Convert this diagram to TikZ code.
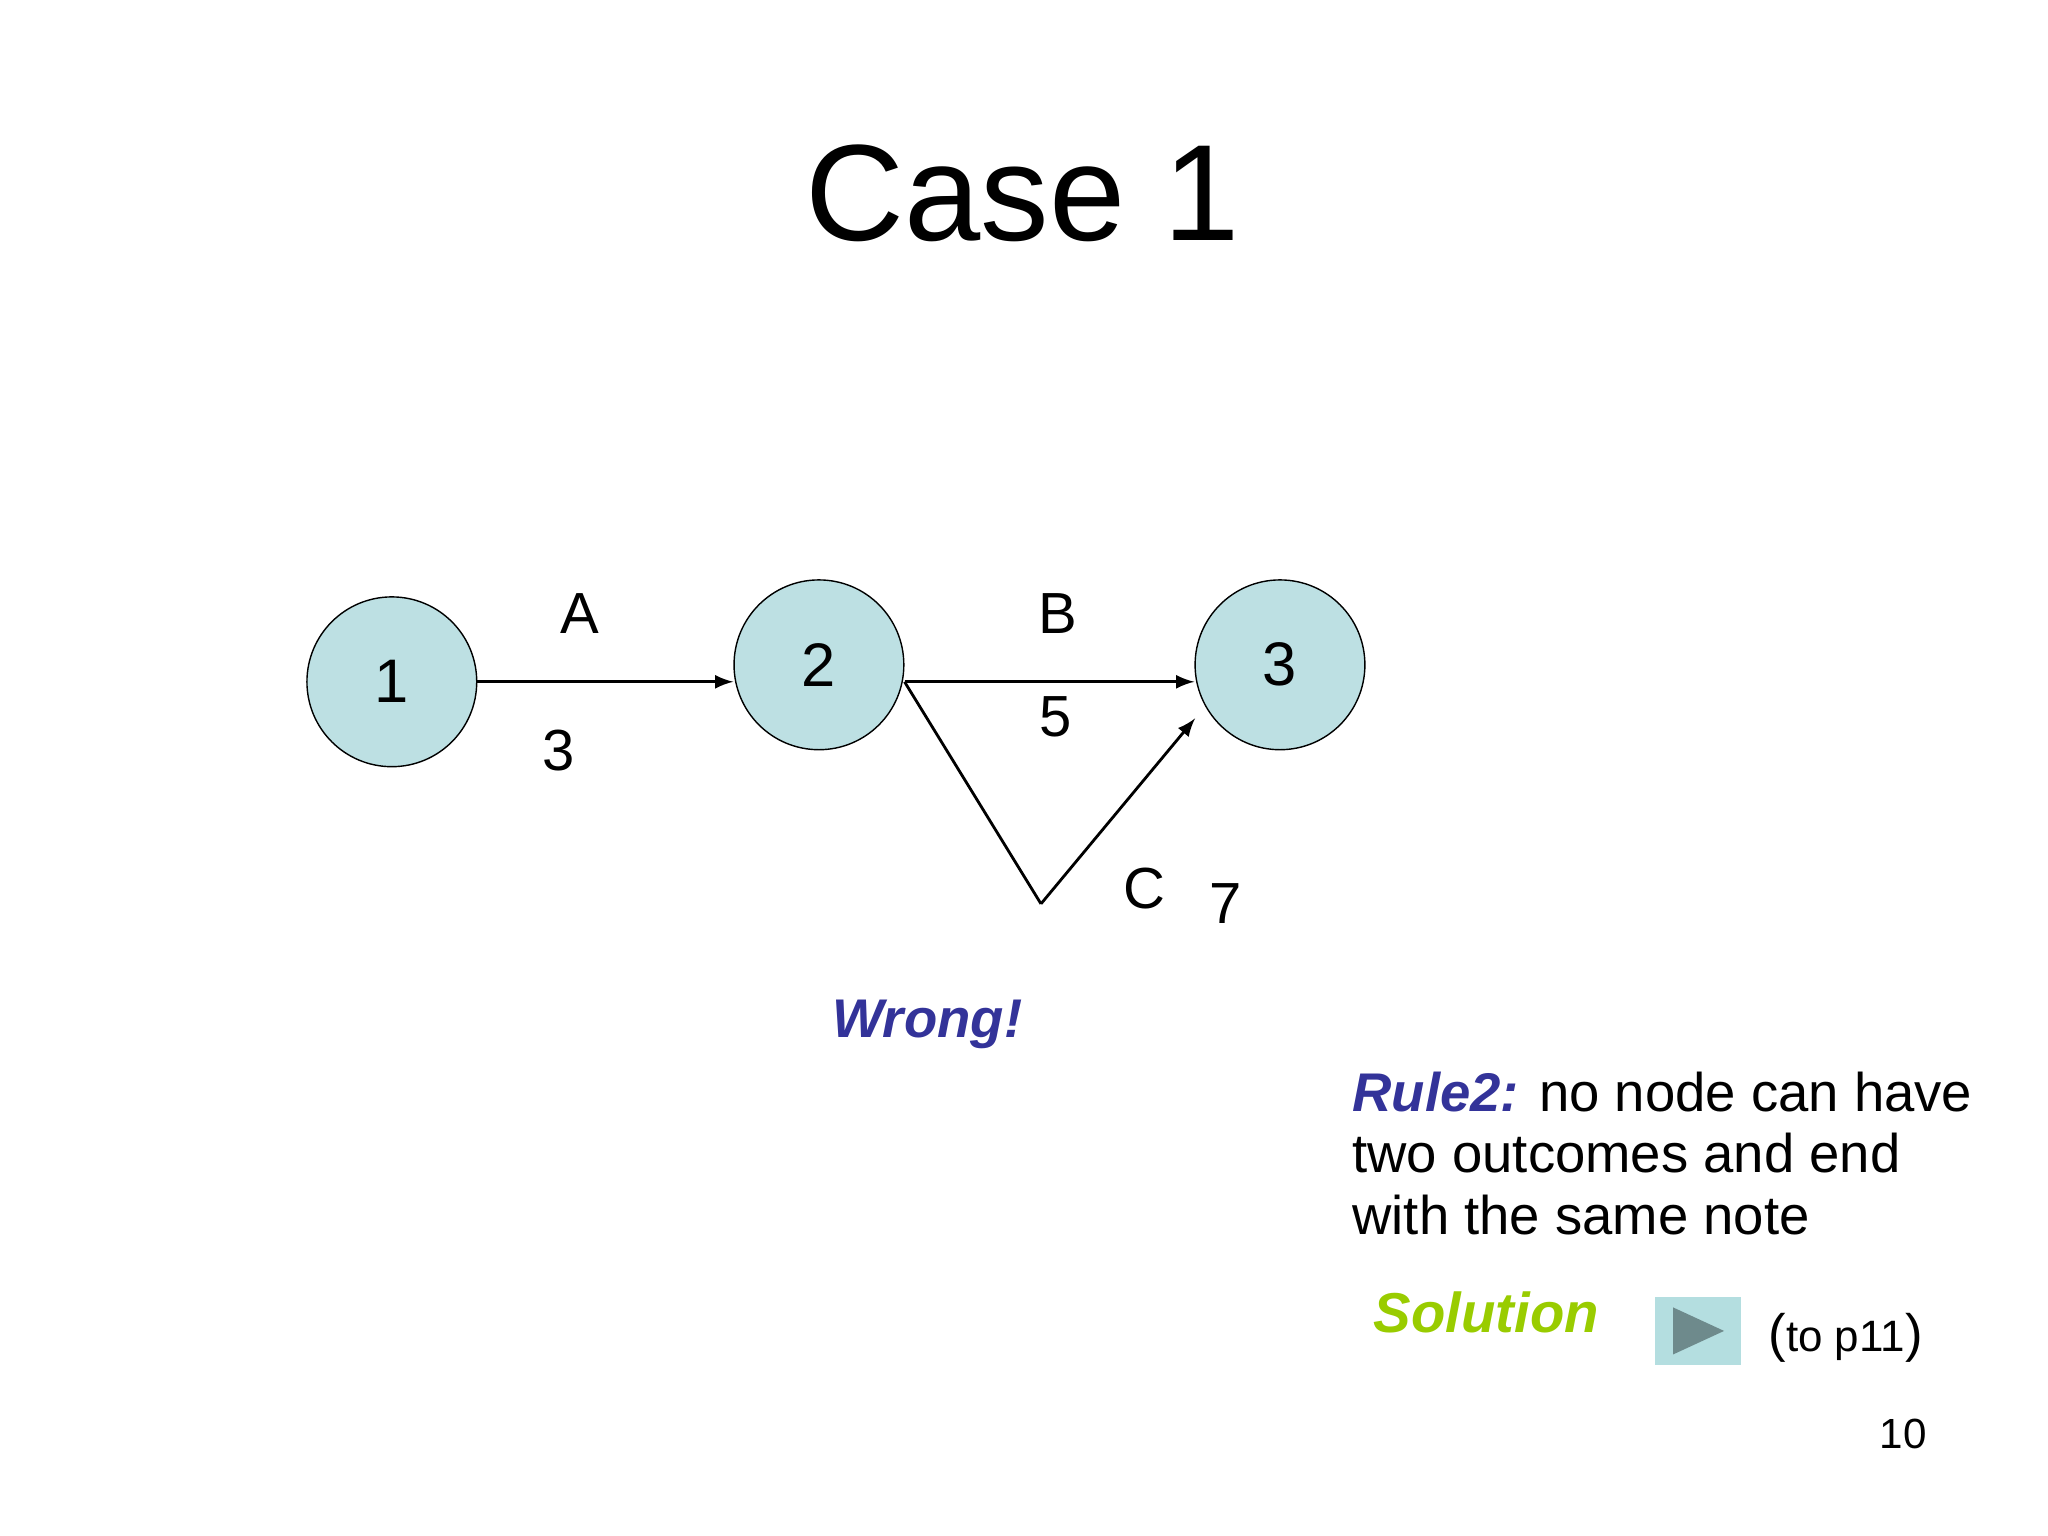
\documentclass[tikz,border=0pt]{standalone}
\usepackage{fontspec}
\setmainfont{Liberation Sans}
\definecolor{nodefill}{HTML}{BDE0E3}
\definecolor{rulblue}{HTML}{333399}
\definecolor{solgreen}{HTML}{99CC00}
\definecolor{btnfill}{HTML}{B4DEE0}
\definecolor{btntri}{HTML}{6E8A8C}
\begin{document}
\begin{tikzpicture}[x=0.013061cm,y=-0.013061cm,
  ev/.style={circle,draw=black,fill=nodefill,minimum size=130*0.013061cm,inner sep=0,font=\fontsize{17.5}{20}\selectfont},
  lab/.style={font=\fontsize{16.5}{19}\selectfont},
  arr/.style={-latex,line width=0.8pt},
  txt/.style={font=\fontsize{15.5}{19}\selectfont,anchor=west}]
\useasboundingbox (0,0) rectangle (1568,1176);
\node at (783,148) {\fontsize{39}{45}\selectfont Case 1};
\node[ev] (n1) at (300,522) {1};
\node[ev] (n2) at (627,509) {2};
\node[ev] (n3) at (980,509) {3};
\coordinate (c) at (797,692);
\draw[arr] (n1.east) -- (n2.west |- n1.east);
\draw[arr] (n2.east |- n1.east) -- (n3.west |- n1.east);
\draw[line width=0.8pt] (n2.east |- n1.east) -- (c);
\draw[arr] (c) -- (915,550);
\node[lab] at (444,470) {A};
\node[lab] at (428,575) {3};
\node[lab] at (810,470) {B};
\node[lab] at (808,549) {5};
\node[lab] at (876,680) {C};
\node[lab] at (938,692) {7};
\node[font=\fontsize{15.5}{19}\selectfont\bfseries\itshape,text=rulblue] at (710,784) {Wrong!};
\node[txt] at (1026,836) {\textcolor{rulblue}{\bfseries\itshape Rule2:} no node can have};
\node[txt] at (1026,883) {two outcomes and end};
\node[txt] at (1026,930) {with the same note};
\node[font=\fontsize{16}{19}\selectfont\bfseries\itshape,text=solgreen] at (1138,1005) {Solution};
\node[draw=none,fill=btnfill,minimum width=66*0.013061cm,minimum height=52*0.013061cm,inner sep=0] (btn) at (1300,1019) {};
\fill[btntri] (1281,1001) -- (1320,1019) -- (1281,1037) -- cycle;
\node[font=\fontsize{12.5}{15}\selectfont] at (1413,1024) {{\fontsize{15}{15}\selectfont(}to p11{\fontsize{15}{15}\selectfont)}};
\node[font=\fontsize{12}{14}\selectfont] at (1457,1098) {10};
\end{tikzpicture}
\end{document}
